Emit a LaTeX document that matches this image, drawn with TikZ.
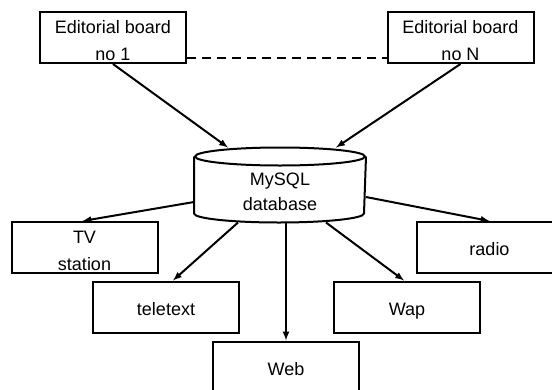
\documentclass[tikz,border=0pt]{standalone}
\usepackage{fontspec}
\setmainfont{Liberation Sans}
\usetikzlibrary{positioning,calc}

\newcommand{\hstrut}[1]{\rule{0pt}{#1}}

\begin{document}
\begin{tikzpicture}[x=1pt, y=1pt,
  box/.style = {draw, line width=2pt, minimum width=146pt, minimum height=51pt,
    align=center, font=\fontsize{18}{27}\selectfont, inner sep=0pt},
  arr/.style = {line width=2pt,-latex}
  ]
  \path[use as bounding box, clip] (0,0) rectangle (552,-389);

  \node[box] (board-1) at (113,-37.5)   {\hstrut{19pt}Editorial board\\no 1};
  \node[box] (board-n) at (460.5,-37.5) {\hstrut{19pt}Editorial board\\no N};
  \node[box, draw=none, minimum width=170pt, minimum height=73pt,
    font=\fontsize{18}{25}\selectfont] (db) at (280,-185)
    {\hstrut{26pt}MySQL\\database};
  \node[box] (tv)       at (84.5,-247.5) {\hstrut{19pt}TV\\station};
  \node[box] (teletext) at (166,-307)    {\hstrut{20pt}teletext\rule[-4pt]{0pt}{0pt}};
  \node[box] (web)      at (286,-367)    {\hstrut{20pt}Web\rule[-4pt]{0pt}{0pt}};
  \node[box] (wap)      at (407,-307)    {\hstrut{20pt}Wap\rule[-4pt]{0pt}{0pt}};
  \node[box] (radio)    at (489.5,-247.5) {\hstrut{20pt}radio\rule[-4pt]{0pt}{0pt}};

  % cylinder round the database node
  \draw[line width=2pt] ([yshift=-9pt]db.north) ellipse [x radius=85pt, y radius=9pt];
  \draw[line width=2pt] ([yshift=-9pt]db.north west) -- ([yshift=9pt]db.south west)
    arc[start angle=180, end angle=360, x radius=85pt, y radius=9pt]
    -- ([yshift=-9pt]db.north east);

  \draw[line width=2pt, dash pattern=on 9pt off 6pt]
    ([yshift=-20.5pt]board-1.east) -- ([yshift=-20.5pt]board-n.west);

  \draw[arr] (board-1.south) -- ([xshift=-52pt]db.north);
  \draw[arr] (board-n.south) -- ([xshift=56pt]db.north);
  \draw[arr] ([yshift=-17pt]db.west) -- ([xshift=-2pt]tv.north);
  \draw[arr] ([xshift=-42pt]db.south) -- ([xshift=7pt]teletext.north);
  \draw[arr] (web.north |- db.south) -- (web.north);
  \draw[arr] ([xshift=46pt]db.south) -- ([xshift=-3pt]wap.north);
  \draw[arr] ([yshift=-12pt]db.east) -- (radio.north);
\end{tikzpicture}
\end{document}
